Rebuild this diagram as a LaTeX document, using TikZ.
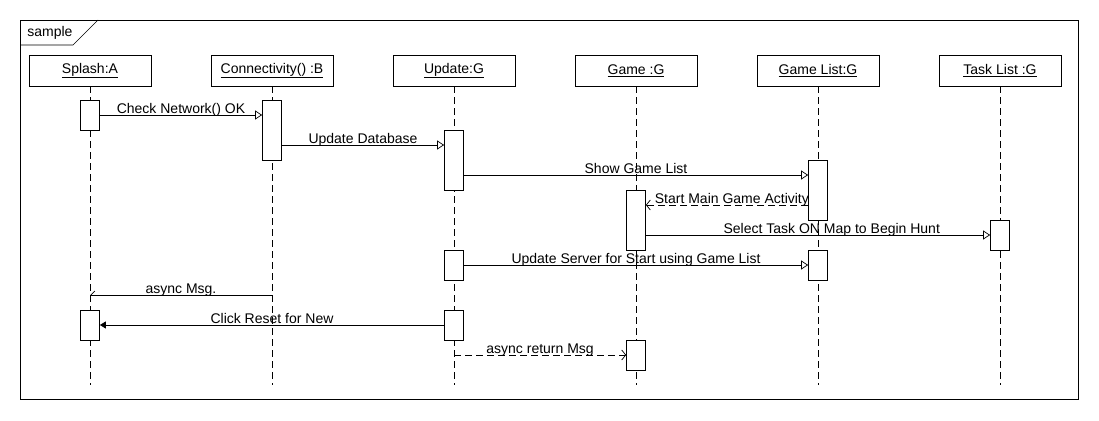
\documentclass[tikz,border=0pt]{standalone}
\usepackage{fontspec}
\setmainfont{Liberation Sans}
\usepackage{tikz}
\usetikzlibrary{arrows.meta}

\tikzset{
  head/.style={draw, fill=white, minimum width=122pt, minimum height=31pt, inner sep=0pt},
  act/.style={draw, fill=white, minimum width=19pt, inner sep=0pt},
  life/.style={dash pattern=on 7pt off 4pt},
  msg/.style={-{Triangle[open,length=7pt,width=9pt]}},
  reply/.style={dash pattern=on 7pt off 4pt, -{Straight Barb[length=4pt,width=10pt]}},
  lbl/.style={above, inner sep=1.5pt, text depth=0pt}
}

\begin{document}
\begin{tikzpicture}[x=1pt, y=-1pt, line width=0.7pt, font=\fontsize{14}{16}\selectfont]
    \useasboundingbox (0,0) rectangle (1099,420);
    % frame
    \draw (20,20) rectangle (1078,399);
    \draw (20,45) -- (73,45) -- (98,20);
    \node[anchor=base west, inner sep=0pt] (frame) at (27,37) {sample};
    % lifelines
    \foreach \n/\x/\t in {spl/90/Splash:A, con/272/Connectivity() :B, upd/454/Update:G,
                          gam/636/Game :G, gml/818/Game List:G, tsk/1000/Task List :G} {
      \node[head] (\n) at (\x,70.5) {\underline{\t}};
      \coordinate (\n-end) at (\x,385);
      \draw[life] (\n.south) -- (\n-end);
    }
    % activations
    \foreach \n/\l/\y/\h in {splAct1/spl/115/30, conAct1/con/130/60, updAct1/upd/160/60,
                             gmlAct1/gml/190/60, gamAct1/gam/220/60, tskAct1/tsk/235/30,
                             updAct2/upd/265/30, gmlAct2/gml/265/30, splAct2/spl/325/30,
                             updAct3/upd/325/30, gamAct2/gam/355/30}
      \node[act, minimum height=\h pt] (\n) at (\l.center |- 0,\y) {};
    % message rows
    \foreach \n/\y in {1/115,2/145,3/175,4/205,5/235,6/265,7/295,8/325,9/355}
      \coordinate (row\n) at (0,\y);
    % messages
    \draw[msg] (splAct1.east |- row1) -- node[lbl] {Check Network() OK} (conAct1.west |- row1);
    \draw[msg] (conAct1.east |- row2) -- node[lbl] {Update Database} (updAct1.west |- row2);
    \draw[msg] (updAct1.east |- row3) -- node[lbl] {Show Game List} (gmlAct1.west |- row3);
    \draw[reply] (gmlAct1.west |- row4) -- node[lbl, pos=0.47] {Start Main Game Activity} (gamAct1.east |- row4);
    \draw[msg] (gamAct1.east |- row5) -- node[lbl, pos=0.54] {Select Task ON Map to Begin Hunt} (tskAct1.west |- row5);
    \draw[msg] (updAct2.east |- row6) -- node[lbl] {Update Server for Start using Game List} (gmlAct2.west |- row6);
    \draw[-{Straight Barb[right,length=4pt,width=8pt]}] (con-end |- row7) -- node[lbl] {async Msg.} (spl-end |- row7);
    \draw[-{Triangle[length=6pt,width=7pt]}] (updAct3.west |- row8) -- node[lbl] {Click Reset for New} (splAct2.east |- row8);
    \draw[reply] (upd-end |- row9) -- node[lbl] {async return Msg} (gamAct2.west |- row9);
\end{tikzpicture}
\end{document}
